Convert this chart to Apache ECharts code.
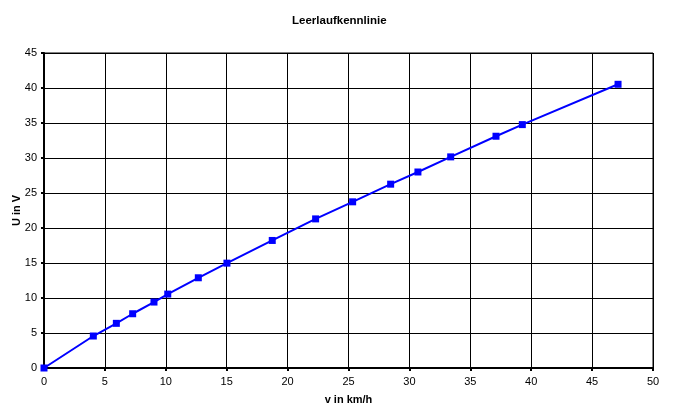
<!DOCTYPE html>
<html><head><meta charset="utf-8">
<script src="https://cdn.jsdelivr.net/npm/echarts@6/dist/echarts.min.js"></script>
<style>html,body{margin:0;padding:0;background:#fff}#c{width:700px;height:415px}</style>
</head><body><div id="c"></div>
<script>
const speed = [0, 4.05, 5.94, 7.28, 9.03, 10.16, 12.67, 15.02, 18.74, 22.3, 25.34, 28.46, 30.7, 33.39, 37.11, 39.27, 47.13];
const voltage = [0, 4.57, 6.38, 7.75, 9.42, 10.56, 12.89, 14.98, 18.22, 21.3, 23.74, 26.26, 28.0, 30.16, 33.11, 34.77, 40.53];
const title = 'Leerlaufkennlinie';
const xName = 'v in km/h';
const yName = 'U in V';

const chart = echarts.init(document.getElementById('c'), null, {renderer: 'canvas'});
const font = 'Liberation Sans, Arial, sans-serif';
chart.setOption({
  animation: false,
  backgroundColor: '#fff',
  title: {text: title, left: 287, top: 10,
    textStyle: {fontFamily: font, fontSize: 11.5, fontWeight: 'bold', color: '#000'}},
  grid: {left: 44, right: 47, top: 53, bottom: 47, show: true, borderColor: '#000', borderWidth: 1,
    containLabel: false, outerBoundsMode: 'none'},
  xAxis: {type: 'value', min: 0, max: 50, interval: 5,
    name: xName, nameLocation: 'middle', nameGap: 26, nameMoveOverlap: false,
    nameTextStyle: {fontFamily: font, fontSize: 11, fontWeight: 'bold', color: '#000'},
    axisLine: {show: true, onZero: false, lineStyle: {color: '#000', width: 2}},
    axisTick: {show: true, length: 3, lineStyle: {color: '#000', width: 2}},
    axisLabel: {fontFamily: font, fontSize: 11, color: '#000', margin: 8},
    splitLine: {show: true, lineStyle: {color: '#000', width: 1}}},
  yAxis: {type: 'value', min: 0, max: 45, interval: 5,
    name: yName, nameLocation: 'middle', nameGap: 22, nameRotate: 90, nameMoveOverlap: false,
    nameTextStyle: {fontFamily: font, fontSize: 11, fontWeight: 'bold', color: '#000'},
    axisLine: {show: true, onZero: false, lineStyle: {color: '#000', width: 2}},
    axisTick: {show: true, length: 3, lineStyle: {color: '#000', width: 2}},
    axisLabel: {fontFamily: font, fontSize: 11, color: '#000', margin: 7},
    splitLine: {show: true, lineStyle: {color: '#000', width: 1}}},
  series: [{type: 'line', data: speed.map((v, i) => [v, voltage[i]]),
    symbol: 'rect', symbolSize: 7, showAllSymbol: true,
    lineStyle: {color: '#0000ff', width: 2},
    itemStyle: {color: '#0000ff'}}]
});
</script></body></html>
